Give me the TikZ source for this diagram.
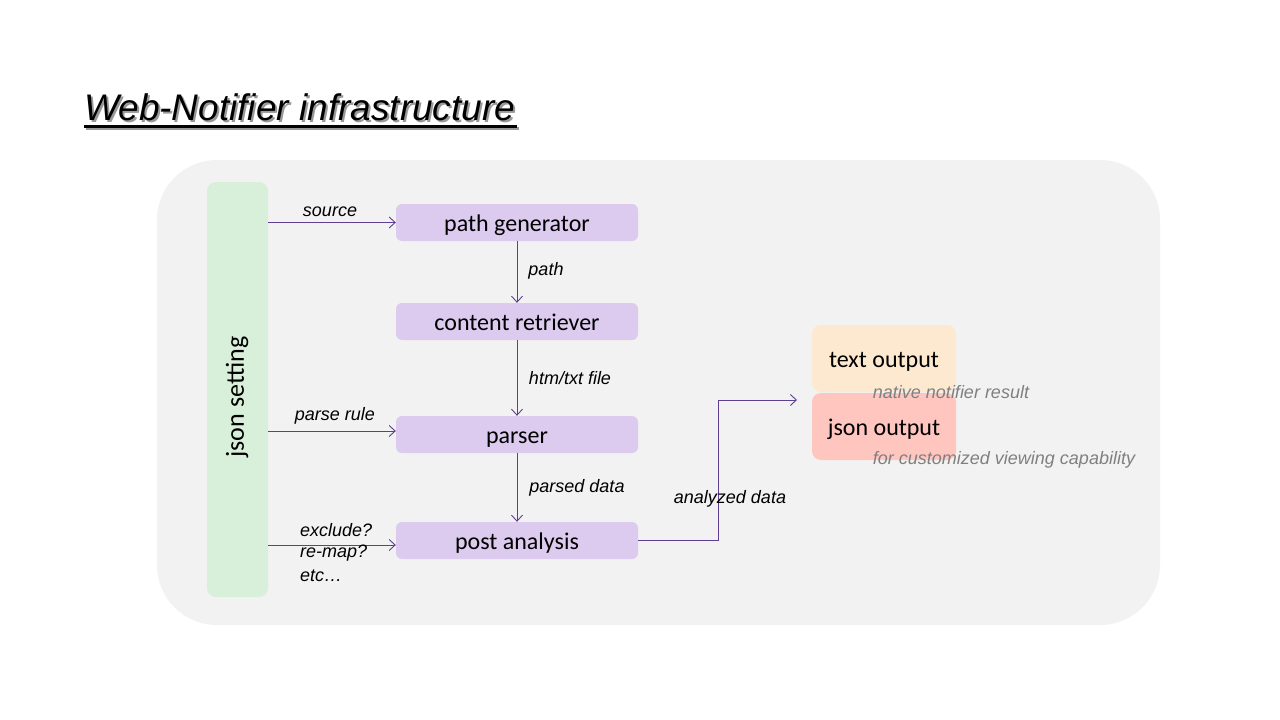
\documentclass[tikz,border=0pt]{standalone}
\usepackage{fontspec}
\setmainfont{Liberation Sans}
\newfontfamily\boxfont{Carlito}
\usetikzlibrary{arrows.meta}
\definecolor{bgpanel}{HTML}{F2F2F2}
\definecolor{greenbox}{HTML}{D8EFD9}
\definecolor{purplebox}{HTML}{DCCBEE}
\definecolor{peachbox}{HTML}{FDE9D0}
\definecolor{pinkbox}{HTML}{FFC5BF}
\definecolor{linecol}{HTML}{5E3F92}
\definecolor{graytext}{HTML}{808080}
\tikzset{
  procbox/.style={draw=none, fill=purplebox, rounded corners=6pt, minimum width=242pt, minimum height=37pt, inner sep=0pt, text height=20pt, text depth=3pt, font=\boxfont\fontsize{24}{27}\selectfont},
  outbox/.style={draw=none, rounded corners=9pt, minimum width=144pt, minimum height=67pt, inner sep=0pt, text height=20pt, text depth=3pt, font=\boxfont\fontsize{24}{27}\selectfont},
  conn/.style={draw=linecol, line width=0.9pt, -{Straight Barb[length=6pt,width=11pt,line width=0.9pt]}},
  lbl/.style={font=\itshape\fontsize{18}{21}\selectfont, inner sep=0pt},
  graylbl/.style={font=\itshape\fontsize{18}{21}\selectfont, text=graytext, inner sep=0pt},
  titlefont/.style={font=\itshape\fontsize{37}{42}\selectfont, inner sep=0pt, anchor=base west}
}
\begin{document}
\begin{tikzpicture}[x=1pt,y=-1pt]
\useasboundingbox (0,0) rectangle (1280,720);
\fill[white] (0,0) rectangle (1280,720);
% title with shadow
\node[titlefont, text=black!40] (titleshadow) at (86,122) {Web-Notifier infrastructure};
\draw[black!40, line width=2.6pt] (86,128.5) -- (519,128.5);
\node[titlefont] (title) at (84,120) {Web-Notifier infrastructure};
\draw[black, line width=2.6pt] (84,126.5) -- (517,126.5);
% panel
\fill[bgpanel, rounded corners=60pt] (157,160) rectangle (1160,625);
% json setting
\node[fill=greenbox, rounded corners=9pt, minimum width=61pt, minimum height=415pt, inner sep=0pt] (json) at (237.5,389.5) {};
\node[rotate=90, inner sep=0pt, font=\boxfont\fontsize{26}{29}\selectfont] (jsontxt) at (237,397) {json setting};
% process boxes
\node[procbox] (pg) at (517,222.5) {path generator};
\node[procbox] (cr) at (517,321.5) {content retriever};
\node[procbox] (ps) at (517,434.5) {parser};
\node[procbox] (pa) at (517,540.5) {post analysis};
% output boxes
\node[outbox, fill=peachbox] (to) at (884,358.5) {text output};
\node[outbox, fill=pinkbox] (jo) at (884,426.5) {json output};
\node[graylbl] (tolbl) at (951,392) {native notifier result};
\node[graylbl] (jolbl) at (1004,460) {for customized viewing capability};
% connectors from json setting
\draw[conn] (json.east |- pg.west) -- (pg.west);
\draw[conn] (json.east |- 0,431) -- (ps.west |- 0,431);
\draw[conn] (json.east |- 0,545) -- (pa.west |- 0,545);
% vertical connectors
\draw[conn] (pg.south) -- (cr.north);
\draw[conn] (cr.south) -- (ps.north);
\draw[conn] (ps.south) -- (pa.north);
% output connector
\coordinate (outend) at (797,400);
\draw[conn] (pa.east) -- (718,540.5) -- (718,400) -- (outend);
% labels
\node[lbl] (l1) at (330,212) {source};
\node[lbl] (l2) at (546,271) {path};
\node[lbl] (l3) at (570,378) {htm/txt file};
\node[lbl] (l4) at (335,416) {parse rule};
\node[lbl] (l5) at (577,488) {parsed data};
\node[lbl, anchor=west] (l6) at (300,530) {exclude?};
\node[lbl, anchor=west] (l7) at (300,553) {re-map?};
\node[lbl, anchor=west] (l8) at (300,576) {etc\ldots};
\node[lbl] (l9) at (730,499) {analyzed data};
\end{tikzpicture}
\end{document}
